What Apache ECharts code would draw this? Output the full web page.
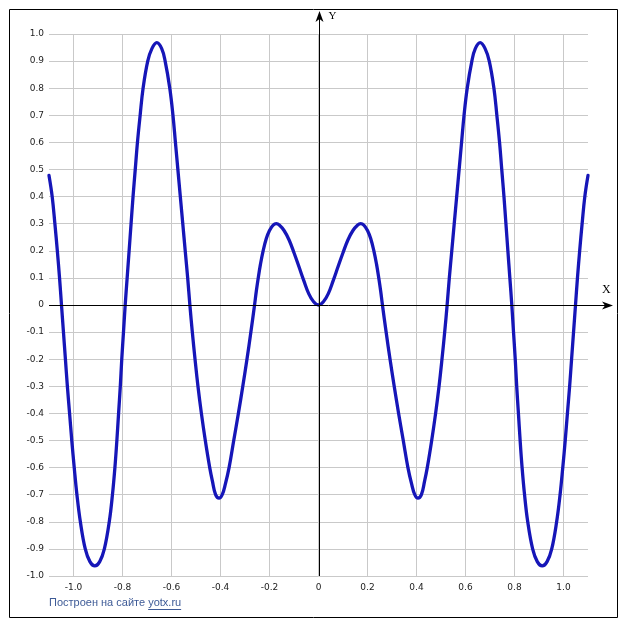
<!DOCTYPE html>
<html>
<head>
<meta charset="utf-8">
<script src="https://cdn.jsdelivr.net/npm/echarts@6/dist/echarts.min.js"></script>
<style>
html,body{margin:0;padding:0;background:#fff;}
#chart{width:627px;height:630px;}
</style>
</head>
<body>
<div id="chart"></div>
<script>
// Data
var xValues = [
  -1.100, -1.087, -1.076, -1.066, -1.057, -1.049, -1.041, -1.033, -1.025, -1.016,
  -1.007, -0.997, -0.986, -0.972, -0.952, -0.933, -0.913, -0.893, -0.874, -0.854,
  -0.841, -0.831, -0.823, -0.816, -0.809, -0.803, -0.796, -0.789, -0.781, -0.773,
  -0.765, -0.757, -0.748, -0.739, -0.728, -0.716, -0.697, -0.680, -0.660, -0.640,
  -0.626, -0.607, -0.594, -0.584, -0.574, -0.564, -0.554, -0.544, -0.534, -0.525,
  -0.515, -0.504, -0.492, -0.478, -0.462, -0.444, -0.433, -0.420, -0.406, -0.393,
  -0.380, -0.365, -0.346, -0.327, -0.309, -0.292, -0.276, -0.261, -0.254, -0.246,
  -0.237, -0.226, -0.213, -0.200, -0.185, -0.172, -0.160, -0.140, -0.120, -0.100,
  -0.080, -0.060, -0.040, -0.020, 0.000,
  0.020, 0.040, 0.060, 0.080, 0.100, 0.120, 0.140, 0.160, 0.172, 0.185,
  0.200, 0.213, 0.226, 0.237, 0.246, 0.254, 0.261, 0.276, 0.292, 0.309,
  0.327, 0.346, 0.365, 0.380, 0.393, 0.406, 0.420, 0.433, 0.444, 0.462,
  0.478, 0.492, 0.504, 0.515, 0.525, 0.534, 0.544, 0.554, 0.564, 0.574,
  0.584, 0.594, 0.607, 0.626, 0.640, 0.660, 0.680, 0.697, 0.716, 0.728,
  0.739, 0.748, 0.757, 0.765, 0.773, 0.781, 0.789, 0.796, 0.803, 0.809,
  0.816, 0.823, 0.831, 0.841, 0.854, 0.874, 0.893, 0.913, 0.933, 0.952,
  0.972, 0.986, 0.997, 1.007, 1.016, 1.025, 1.033, 1.041, 1.049, 1.057,
  1.066, 1.076, 1.087, 1.100
];
var yValues = [
  0.478, 0.40, 0.30, 0.20, 0.10, 0.00, -0.10, -0.20, -0.30, -0.40,
  -0.50, -0.60, -0.70, -0.80, -0.90, -0.947, -0.963, -0.947, -0.90, -0.80,
  -0.70, -0.60, -0.50, -0.40, -0.30, -0.20, -0.10, 0.00, 0.10, 0.20,
  0.30, 0.40, 0.50, 0.60, 0.70, 0.80, 0.90, 0.946, 0.968, 0.946,
  0.90, 0.80, 0.70, 0.60, 0.50, 0.40, 0.30, 0.20, 0.10, 0.00,
  -0.10, -0.20, -0.30, -0.40, -0.50, -0.60, -0.65, -0.70, -0.713, -0.70,
  -0.66, -0.60, -0.50, -0.40, -0.30, -0.20, -0.10, 0.00, 0.05, 0.10,
  0.15, 0.20, 0.245, 0.275, 0.295, 0.300, 0.295, 0.274, 0.240, 0.193,
  0.142, 0.090, 0.042, 0.012, 0.000,
  0.012, 0.042, 0.090, 0.142, 0.193, 0.240, 0.274, 0.295, 0.300, 0.295,
  0.275, 0.245, 0.20, 0.15, 0.10, 0.05, 0.00, -0.10, -0.20, -0.30,
  -0.40, -0.50, -0.60, -0.66, -0.70, -0.713, -0.70, -0.65, -0.60, -0.50,
  -0.40, -0.30, -0.20, -0.10, 0.00, 0.10, 0.20, 0.30, 0.40, 0.50,
  0.60, 0.70, 0.80, 0.90, 0.946, 0.968, 0.946, 0.90, 0.80, 0.70,
  0.60, 0.50, 0.40, 0.30, 0.20, 0.10, 0.00, -0.10, -0.20, -0.30,
  -0.40, -0.50, -0.60, -0.70, -0.80, -0.90, -0.947, -0.963, -0.947, -0.90,
  -0.80, -0.70, -0.60, -0.50, -0.40, -0.30, -0.20, -0.10, 0.00, 0.10,
  0.20, 0.30, 0.40, 0.478
];
var xTickValues = [-1.0, -0.8, -0.6, -0.4, -0.2, 0, 0.2, 0.4, 0.6, 0.8, 1.0];
var xRange = [-1.1, 1.1];
var yRange = [-1.0, 1.0];
var yStep = 0.1;
var footerText = 'Построен на сайте ';
var footerLink = 'yotx.ru';

var points = xValues.map(function (x, i) { return [x, yValues[i]]; });
function fmt(v) {
  if (Math.abs(v) < 1e-9) return '0';
  return v.toFixed(1);
}
var labelFont = {color: '#222', fontSize: 9, fontFamily: 'DejaVu Sans'};

var chart = echarts.init(document.getElementById('chart'), null, {renderer: 'canvas'});
var option = {
  animation: false,
  backgroundColor: '#fff',
  grid: {left: 49, right: 39, top: 34, bottom: 54, containLabel: false},
  xAxis: {
    type: 'value', min: xRange[0], max: xRange[1],
    axisLine: {show: false},
    axisTick: {show: false},
    splitLine: {show: false},
    axisLabel: Object.assign({
      customValues: xTickValues, formatter: fmt, margin: 7
    }, labelFont)
  },
  yAxis: {
    type: 'value', min: yRange[0], max: yRange[1], interval: yStep,
    axisLine: {show: false},
    axisTick: {show: false},
    splitLine: {show: true, lineStyle: {color: '#c9c9c9', width: 1}},
    axisLabel: Object.assign({formatter: fmt, margin: 5}, labelFont)
  },
  series: [
    {
      type: 'line', data: [], z: 1, silent: true,
      markLine: {
        silent: true, symbol: ['none', 'none'], label: {show: false},
        lineStyle: {color: '#c9c9c9', width: 1, type: 'solid'},
        emphasis: {disabled: true},
        data: xTickValues.map(function (v) { return {xAxis: v}; })
      }
    },
    {
      type: 'line', data: points, z: 5, showSymbol: false, symbol: 'none',
      smooth: 0.4,
      lineStyle: {color: '#1616b8', width: 3.3, join: 'round', cap: 'round'},
      silent: true
    }
  ]
};
chart.setOption(option);

var o = chart.convertToPixel({gridIndex: 0}, [0, 0]);
var bl = chart.convertToPixel({gridIndex: 0}, [xRange[0], yRange[0]]);
var ox = Math.round(o[0]) + 0.5, oy = Math.round(o[1]) + 0.5;
var left = bl[0], bottom = bl[1];

var ctx = document.createElement('canvas').getContext('2d');
ctx.font = '11px "Liberation Sans"';
var w1 = ctx.measureText(footerText).width;
var w2 = ctx.measureText(footerLink).width;
var fx = 49, fy = 597;

chart.setOption({
  graphic: [
    {type: 'rect', shape: {x: 9.5, y: 9.5, width: 608, height: 608},
     style: {fill: 'none', stroke: '#000', lineWidth: 1}, z: 10},
    {type: 'line', shape: {x1: ox, y1: bottom, x2: ox, y2: 16},
     style: {stroke: '#000', lineWidth: 1}, z: 10},
    {type: 'polygon', shape: {points: [[ox, 11], [ox - 4, 22], [ox, 19], [ox + 4, 22]]},
     style: {fill: '#000'}, z: 10},
    {type: 'line', shape: {x1: left, y1: oy, x2: 608, y2: oy},
     style: {stroke: '#000', lineWidth: 1}, z: 10},
    {type: 'polygon', shape: {points: [[613, oy], [602, oy - 4], [605, oy], [602, oy + 4]]},
     style: {fill: '#000'}, z: 10},
    {type: 'text', x: ox + 9, y: 11,
     style: {text: 'Y', fill: '#000', font: '11px "Liberation Serif"'}, z: 10},
    {type: 'text', x: 602, y: 284,
     style: {text: 'X', fill: '#000', font: '12px "Liberation Serif"'}, z: 10},
    {type: 'text', x: fx, y: fy,
     style: {text: footerText, fill: '#3d5a96', font: '11px "Liberation Sans"'}, z: 10},
    {type: 'text', x: fx + w1, y: fy,
     style: {text: footerLink, fill: '#3d5a96', font: '11px "Liberation Sans"'}, z: 10},
    {type: 'line', shape: {x1: fx + w1, y1: fy + 12.5, x2: fx + w1 + w2, y2: fy + 12.5},
     style: {stroke: '#3d5a96', lineWidth: 1}, z: 10}
  ]
});
</script>
</body>
</html>
